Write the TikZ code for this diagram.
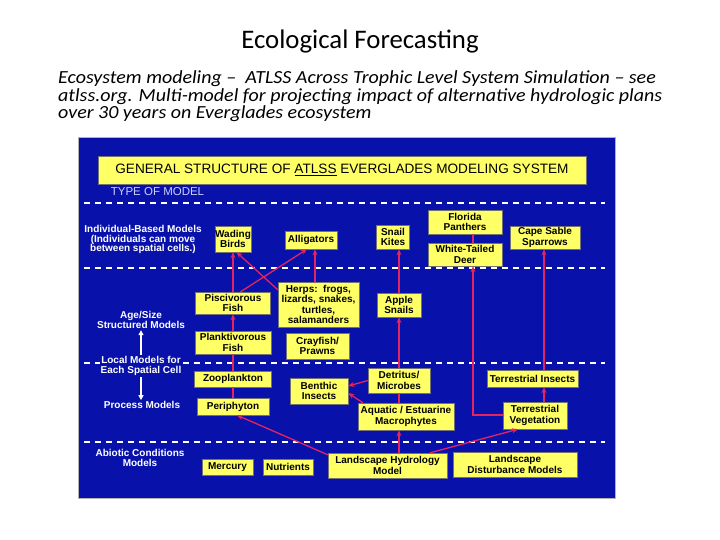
\documentclass[tikz,border=0pt]{standalone}
\usepackage{fontspec}
\newfontfamily\arialf{Liberation Sans}
\newfontfamily\calibf{Carlito}
\usetikzlibrary{arrows.meta,calc}
\definecolor{panelblue}{RGB}{8,18,170}
\definecolor{boxyellow}{RGB}{255,255,102}
\definecolor{arrowred}{RGB}{228,36,96}
\definecolor{lavender}{RGB}{205,205,255}
\begin{document}
\begin{tikzpicture}[x=1pt,y=-1pt,
 box/.style={fill=boxyellow,draw=black!55,line width=0.4pt,inner sep=0pt,align=center,text=black,font=\arialf\bfseries\fontsize{10}{10.4}\selectfont},
 sz/.style 2 args={minimum width=#1pt,minimum height=#2pt},
 lbl/.style={fill=panelblue,inner sep=1pt,align=center,text=white,font=\arialf\bfseries\fontsize{10}{10.6}\selectfont},
 link/.style={draw=arrowred,line width=1.3pt,-{Stealth[length=6pt,width=5pt]}},
 plainlink/.style={draw=arrowred,line width=1.3pt},
 sepline/.style={draw=white,line width=1.1pt,dash pattern=on 6pt off 5pt},
 updown/.style={draw=white,line width=1.2pt,-{Triangle[length=5pt,width=5pt]}},
 subline/.style={anchor=base west,inner sep=0pt,font=\calibf\itshape\fontsize{18.5}{17}\selectfont}]
\useasboundingbox[fill=white] (0,0) rectangle (720,540);
% titles
\node[font=\calibf\fontsize{26.8}{30}\selectfont,anchor=base,inner sep=0pt] (title) at (360,49) {Ecological Forecasting};
\node[subline] (sub1) at (58,84) {\scalebox{1.08}[1]{Ecosystem modeling –\ \ ATLSS Across Trophic Level System Simulation – see}};
\node[subline] (sub2) at (58,101.5) {\scalebox{1.08}[1]{atlss.org. Multi-model for projecting impact of alternative hydrologic plans}};
\node[subline] (sub3) at (58,119) {\scalebox{1.08}[1]{over 30 years on Everglades ecosystem}};
% panel
\fill[panelblue] (78,137) rectangle (615,498);
\draw[black!30,line width=0.8pt] (78,137) rectangle (615,498);
\foreach \yy in {203,268,363,442} \draw[sepline] (84,\yy) -- (605,\yy);
% header
\node[box,sz={488}{28},font=\arialf\fontsize{13.6}{15}\selectfont] (header) at (342,170) {GENERAL STRUCTURE OF \underline{ATLSS} EVERGLADES MODELING SYSTEM};
\node[text=lavender,font=\arialf\fontsize{11.5}{13}\selectfont,inner sep=0pt] (typelbl) at (157.5,192) {TYPE OF MODEL};
% left labels
\node[lbl,font=\arialf\bfseries\fontsize{10}{9.6}\selectfont] (ibm) at (143,239.5) {Individual-Based Models\\(Individuals can move\\between spatial cells.)};
\node[lbl] (agesize) at (141,320) {Age/Size\\Structured Models};
\node[lbl] (local) at (141,366) {Local Models for\\Each Spatial Cell};
\node[lbl] (process) at (142,405) {Process Models};
\node[lbl] (abiotic) at (140,458) {Abiotic Conditions\\Models};
\draw[updown] (local.north) -- (local.north |- agesize.south);
\draw[updown] (local.south) -- (local.south |- process.north);
% boxes
\node[box,sz={35}{26}] (wading) at (233,239) {Wading\\Birds};
\node[box,sz={52}{18}] (alligators) at (311,240) {Alligators};
\node[box,sz={33}{24}] (snail) at (393,237) {Snail\\Kites};
\node[box,sz={74}{24}] (panthers) at (465,222) {Florida\\Panthers};
\node[box,sz={74}{23}] (deer) at (465,254.5) {White-Tailed\\Deer};
\node[box,sz={70}{23}] (sparrows) at (545,237.5) {Cape Sable\\Sparrows};
\node[box,sz={75}{22}] (pisc) at (233,303) {Piscivorous\\Fish};
\node[box,sz={81}{45}] (herps) at (318.5,304.5) {Herps:\ \ frogs,\\lizards, snakes,\\turtles,\\salamanders};
\node[box,sz={44}{24}] (apple) at (399,305) {Apple\\Snails};
\node[box,sz={76}{23}] (plank) at (233,342.5) {Planktivorous\\Fish};
\node[box,sz={63}{26}] (crayfish) at (317.5,346) {Crayfish/\\Prawns};
\node[box,sz={77}{16}] (zoo) at (233,379) {Zooplankton};
\node[box,sz={72}{17}] (peri) at (233,406.5) {Periphyton};
\node[box,sz={58}{26}] (benthic) at (319,391) {Benthic\\Insects};
\node[box,sz={62}{25}] (detritus) at (399,380.5) {Detritus/\\Microbes};
\node[box,sz={96}{27}] (macro) at (406,416.5) {Aquatic / Estuarine\\Macrophytes};
\node[box,sz={91}{17}] (tinsects) at (532.5,378.5) {Terrestrial Insects};
\node[box,sz={64}{27}] (tveg) at (535,415.5) {Terrestrial\\Vegetation};
\node[box,sz={51}{16}] (mercury) at (227.5,467) {Mercury};
\node[box,sz={50}{16}] (nutrients) at (288,467) {Nutrients};
\node[box,sz={119}{25}] (hydro) at (387.5,465.5) {Landscape Hydrology\\Model};
\node[box,sz={124}{25}] (disturb) at (515,464.5) {Landscape\\Disturbance Models};
% connectors
\draw[plainlink] (peri.north) -- (zoo.south);
\draw[plainlink] (zoo.north) -- (plank.south);
\draw[link] (plank.north) -- (pisc.south);
\draw[link] (pisc.north) -- (wading.south);
\draw[link] ([xshift=7.5pt]pisc.north) -- ([xshift=-4pt]alligators.south);
\draw[link] ([yshift=-8pt]herps.north west) -- ([xshift=3.5pt]wading.south);
\draw[link] ([xshift=-3.5pt]herps.north) -- ([xshift=4pt]alligators.south);
\draw[link] (apple.north) -- (apple.north |- snail.south);
\draw[link] (detritus.north) -- (detritus.north |- apple.south);
\draw[plainlink] (detritus.south |- macro.north) -- (detritus.south);
\draw[link] (detritus.south |- hydro.north) -- (detritus.south |- macro.south);
\draw[link] (detritus.west) -- ([yshift=5pt]benthic.east);
\draw[link] ([xshift=5pt]macro.north west) -- ([yshift=-2pt]benthic.east);
\draw[link] ([yshift=-2pt]hydro.north west) -- ([xshift=4pt]peri.south);
\draw[link] ([xshift=42.5pt]hydro.north) -- ([xshift=-17pt]tveg.south);
\coordinate (tcol) at ([xshift=9pt]tveg.north);
\draw[link] (tcol) -- (tcol |- tinsects.south);
\draw[link] (tcol |- tinsects.north) -- (tcol |- sparrows.south);
\coordinate (dcol) at ([xshift=8pt]deer.south);
\draw[link] ([yshift=0.5pt]tveg.west) -| (dcol);
\draw[plainlink] (dcol |- deer.north) -- (dcol |- panthers.south);
\end{tikzpicture}
\end{document}
